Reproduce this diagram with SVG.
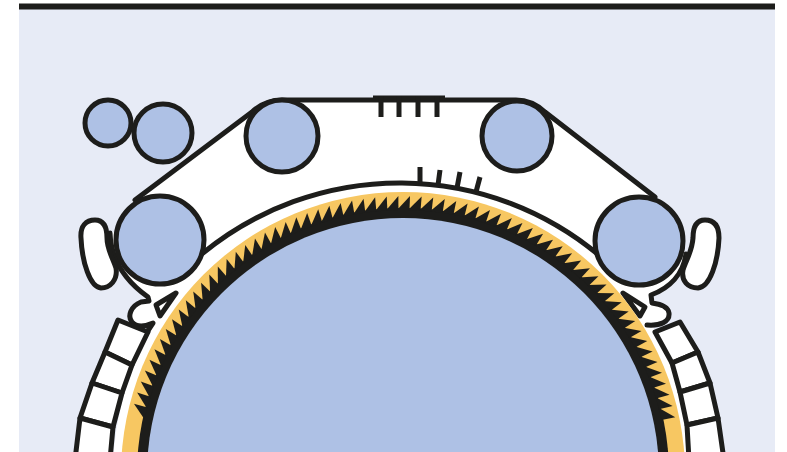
<svg xmlns="http://www.w3.org/2000/svg" width="787" height="452" viewBox="0 0 787 452">
<style>
.o{stroke:#1d1d1b;stroke-width:5;fill:none;stroke-linejoin:round;stroke-linecap:round}
.w{stroke:#1d1d1b;stroke-width:5;fill:#fff;stroke-linejoin:round}
.r{stroke:#1d1d1b;stroke-width:5;fill:#aec1e5}
.t{stroke:#1d1d1b;stroke-width:5;fill:none}
</style>
<defs>
<path id="tooth" d="M397,210 L410,196 L409.500,210 Z" fill="#1d1d1b"/>
</defs>
<rect width="787" height="452" fill="#fff"/>
<rect x="19" y="9" width="756" height="443" fill="#e7ebf6"/>
<rect x="19" y="3.500" width="756" height="6" fill="#1d1d1b"/>
<g id="belt">
<path d="M135,200 L252,112 Q265,100 282,100 L516,100 Q532,100 545,112 L655,197 L640,300 L160,300 Z" fill="#fff"/>
<circle cx="403" cy="474" r="290" fill="#fff"/>
<path class="o" d="M135,200 L252,112 Q265,100 282,100 L516,100 Q532,100 545,112 L655,197"/>
<path class="o" d="M203,253 A311,311 0 0 1 600,256"/>
<path d="M373,95.500H445V100H373Z" fill="#1d1d1b"/>
<path class="t" d="M381,96V117M399,96V117M418,96V117M437,96V117M420,167V182M440,170L438,185M460,172L457,188M480,177L476,192"/>
</g>
<g id="hook-left">
<path d="M110,233 C111,258 124,280 148,297 L149,301 L141,302 C131,306 127,316 132,322 C137,328 146,326 153,323 L147,332 L190,300 L170,220 Z" fill="#fff"/>
<path class="o" d="M110,233 C111,258 124,280 148,297 L149,301 L141,302 C131,306 127,316 132,322 C137,328 146,326 153,323 L147,332"/>
<path d="M176,293 L156,305 L160,316 Z" fill="#fff" stroke="#1d1d1b" stroke-width="5" stroke-linejoin="round"/>
</g>
<g id="hook-right">
<path d="M686,254 C683,274 670,288 651,295 L652,303 C660,304 668,306 669,313 C670,322 660,326 647,325 L610,300 L640,220 Z" fill="#fff"/>
<path class="o" d="M686,254 C683,274 670,288 651,295 L652,303 C660,304 668,306 669,313 C670,322 660,326 647,325"/>
<path d="M623,293 L645,307 L640,316 Z" fill="#fff" stroke="#1d1d1b" stroke-width="5" stroke-linejoin="round"/>
</g>
<g id="drum">
<circle cx="403" cy="474" r="282" fill="#f7c762"/>
<circle cx="403" cy="474" r="266" fill="#1d1d1b"/>
<g id="teeth">
<use href="#tooth" transform="rotate(-76.8 403 474)"/>
<use href="#tooth" transform="rotate(-74.4 403 474)"/>
<use href="#tooth" transform="rotate(-72 403 474)"/>
<use href="#tooth" transform="rotate(-69.600 403 474)"/>
<use href="#tooth" transform="rotate(-67.2 403 474)"/>
<use href="#tooth" transform="rotate(-64.8 403 474)"/>
<use href="#tooth" transform="rotate(-62.4 403 474)"/>
<use href="#tooth" transform="rotate(-60 403 474)"/>
<use href="#tooth" transform="rotate(-57.6 403 474)"/>
<use href="#tooth" transform="rotate(-55.2 403 474)"/>
<use href="#tooth" transform="rotate(-52.8 403 474)"/>
<use href="#tooth" transform="rotate(-50.4 403 474)"/>
<use href="#tooth" transform="rotate(-48 403 474)"/>
<use href="#tooth" transform="rotate(-45.6 403 474)"/>
<use href="#tooth" transform="rotate(-43.2 403 474)"/>
<use href="#tooth" transform="rotate(-40.8 403 474)"/>
<use href="#tooth" transform="rotate(-38.4 403 474)"/>
<use href="#tooth" transform="rotate(-36 403 474)"/>
<use href="#tooth" transform="rotate(-33.6 403 474)"/>
<use href="#tooth" transform="rotate(-31.2 403 474)"/>
<use href="#tooth" transform="rotate(-28.8 403 474)"/>
<use href="#tooth" transform="rotate(-26.4 403 474)"/>
<use href="#tooth" transform="rotate(-24 403 474)"/>
<use href="#tooth" transform="rotate(-21.6 403 474)"/>
<use href="#tooth" transform="rotate(-19.2 403 474)"/>
<use href="#tooth" transform="rotate(-16.8 403 474)"/>
<use href="#tooth" transform="rotate(-14.4 403 474)"/>
<use href="#tooth" transform="rotate(-12 403 474)"/>
<use href="#tooth" transform="rotate(-9.6 403 474)"/>
<use href="#tooth" transform="rotate(-7.2 403 474)"/>
<use href="#tooth" transform="rotate(-4.8 403 474)"/>
<use href="#tooth" transform="rotate(-2.4 403 474)"/>
<use href="#tooth"/>
<use href="#tooth" transform="rotate(2.4 403 474)"/>
<use href="#tooth" transform="rotate(4.8 403 474)"/>
<use href="#tooth" transform="rotate(7.2 403 474)"/>
<use href="#tooth" transform="rotate(9.6 403 474)"/>
<use href="#tooth" transform="rotate(12 403 474)"/>
<use href="#tooth" transform="rotate(14.4 403 474)"/>
<use href="#tooth" transform="rotate(16.8 403 474)"/>
<use href="#tooth" transform="rotate(19.2 403 474)"/>
<use href="#tooth" transform="rotate(21.6 403 474)"/>
<use href="#tooth" transform="rotate(24 403 474)"/>
<use href="#tooth" transform="rotate(26.4 403 474)"/>
<use href="#tooth" transform="rotate(28.8 403 474)"/>
<use href="#tooth" transform="rotate(31.2 403 474)"/>
<use href="#tooth" transform="rotate(33.6 403 474)"/>
<use href="#tooth" transform="rotate(36 403 474)"/>
<use href="#tooth" transform="rotate(38.4 403 474)"/>
<use href="#tooth" transform="rotate(40.8 403 474)"/>
<use href="#tooth" transform="rotate(43.2 403 474)"/>
<use href="#tooth" transform="rotate(45.6 403 474)"/>
<use href="#tooth" transform="rotate(48 403 474)"/>
<use href="#tooth" transform="rotate(50.4 403 474)"/>
<use href="#tooth" transform="rotate(52.8 403 474)"/>
<use href="#tooth" transform="rotate(55.2 403 474)"/>
<use href="#tooth" transform="rotate(57.6 403 474)"/>
<use href="#tooth" transform="rotate(60 403 474)"/>
<use href="#tooth" transform="rotate(62.4 403 474)"/>
<use href="#tooth" transform="rotate(64.8 403 474)"/>
<use href="#tooth" transform="rotate(67.2 403 474)"/>
<use href="#tooth" transform="rotate(69.6 403 474)"/>
<use href="#tooth" transform="rotate(72 403 474)"/>
<use href="#tooth" transform="rotate(74.4 403 474)"/>
<use href="#tooth" transform="rotate(76.8 403 474)"/>
</g>
<circle cx="403" cy="474" r="256" fill="#aec1e5"/>
</g>
<g id="pad-left"><path class="w" d="M81,238 C80,226 86,220 95,220 C104,220 107,228 107,238 C107,250 113,258 116,268 C118,280 110,288 101,288 C90,287 82,262 81,238 Z"/></g>
<g id="pad-right"><path class="w" d="M719,238 C719,226 714,220 705,220 C696,220 693,228 693,238 C692,252 686,260 683,270 C681,281 688,288 698,288 C710,287 718,262 719,238 Z"/></g>
<g id="shoes-left">
<path class="w" d="M118,320 L148,332 L132,365 L105,352 Z"/>
<path class="w" d="M105,352 L132,365 L122,393 L92,383 Z"/>
<path class="w" d="M92,383 L122,393 L113,427 L80,418 Z"/>
<path class="w" d="M80,418 L113,427 L110,460 L75,460 Z"/>
</g>
<g id="shoes-right">
<path class="w" d="M680,322 L655,332 L672,363 L698,352 Z"/>
<path class="w" d="M672,363 L698,352 L710,383 L680,392 Z"/>
<path class="w" d="M680,392 L710,383 L718,418 L687,425 Z"/>
<path class="w" d="M687,425 L718,418 L724,460 L689,460 Z"/>
</g>
<g id="roller-small-1"><circle class="r" cx="108" cy="123" r="23"/></g>
<g id="roller-small-2"><circle class="r" cx="163" cy="133" r="29"/></g>
<g id="roller-top-left"><circle class="r" cx="282" cy="136" r="36"/></g>
<g id="roller-top-right"><circle class="r" cx="517" cy="136" r="35"/></g>
<g id="roller-left"><circle class="r" cx="160" cy="240" r="44"/></g>
<g id="roller-right"><circle class="r" cx="639" cy="241" r="44"/></g>
</svg>
